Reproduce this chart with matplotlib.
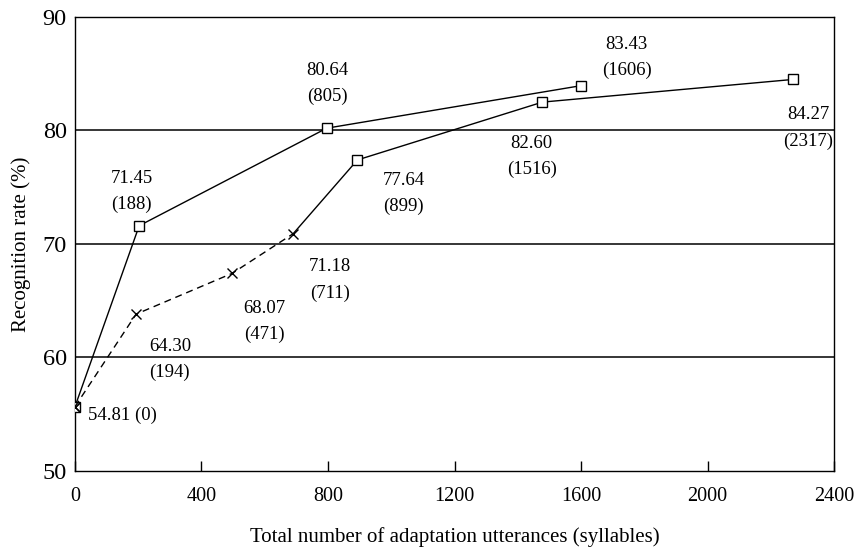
import matplotlib
matplotlib.use("Agg")
import matplotlib.pyplot as plt

plt.rcParams['font.family'] = ['Liberation Serif', 'DejaVu Serif']

# upper curve (squares)
upper_x = [0, 203, 796, 1600]
upper_y = [55.65, 71.6, 80.2, 83.95]

# lower curve: dashed part with crosses, then solid part with squares
cross_x = [0, 193, 497, 690]
cross_y = [55.65, 63.8, 67.4, 70.9]
square_x = [690, 893, 1478, 2271]
square_y = [70.9, 77.4, 82.5, 84.5]

labels = ["54.81 (0)", "71.45\n(188)", "80.64\n(805)", "83.43\n(1606)",
          "64.30\n(194)", "68.07\n(471)", "71.18\n(711)",
          "77.64\n(899)", "82.60\n(1516)", "84.27\n(2317)"]
label_pos = [(42, 54.9, 'left'), (179, 74.6, 'center'), (799, 84.15, 'center'),
             (1744, 86.45, 'center'), (300, 59.8, 'center'), (600, 63.15, 'center'),
             (806, 66.8, 'center'), (1040, 74.45, 'center'), (1444, 77.7, 'center'),
             (2318, 80.2, 'center')]

fig = plt.figure(figsize=(8.6, 5.5), dpi=100)
ax = fig.add_axes([0.0872, 0.1442, 0.8826, 0.8248])

for g in [60, 70, 80]:
    ax.axhline(g, color='black', lw=1.1, zorder=1)

ax.plot(upper_x, upper_y, color='black', lw=1.0, marker='s', ms=7,
        mfc='white', mec='black', mew=1.0, zorder=3)
ax.plot(cross_x, cross_y, color='black', lw=1.0, ls=(0, (5, 3.5)), marker='x',
        ms=7, mec='black', mew=1.0, zorder=3)
ax.plot(square_x, square_y, color='black', lw=1.0, marker='s', ms=7,
        mfc='white', mec='black', mew=1.0, markevery=slice(1, None), zorder=3)
ax.plot(cross_x[0], cross_y[0], marker='x', ms=7, color='black', mew=1.0, zorder=4)

for txt, (tx, ty, ha) in zip(labels, label_pos):
    ax.text(tx, ty, txt, ha=ha, va='center', fontsize=13.5, linespacing=1.7)

ax.set_xlim(0, 2400)
ax.set_ylim(50, 90)
ax.set_xticks([0, 400, 800, 1200, 1600, 2000, 2400])
ax.set_yticks([50, 60, 70, 80, 90])
ax.tick_params(axis='x', direction='in', length=7, width=1.0, labelsize=14.5, pad=12)
ax.tick_params(axis='y', length=0, labelsize=17.5, pad=6)
for s in ax.spines.values():
    s.set_linewidth(1.0)

ax.set_xlabel("Total number of adaptation utterances (syllables)", fontsize=15, labelpad=15)
ax.set_ylabel("Recognition rate (%)", fontsize=15, labelpad=8)

fig.savefig("out.png", dpi=100)
